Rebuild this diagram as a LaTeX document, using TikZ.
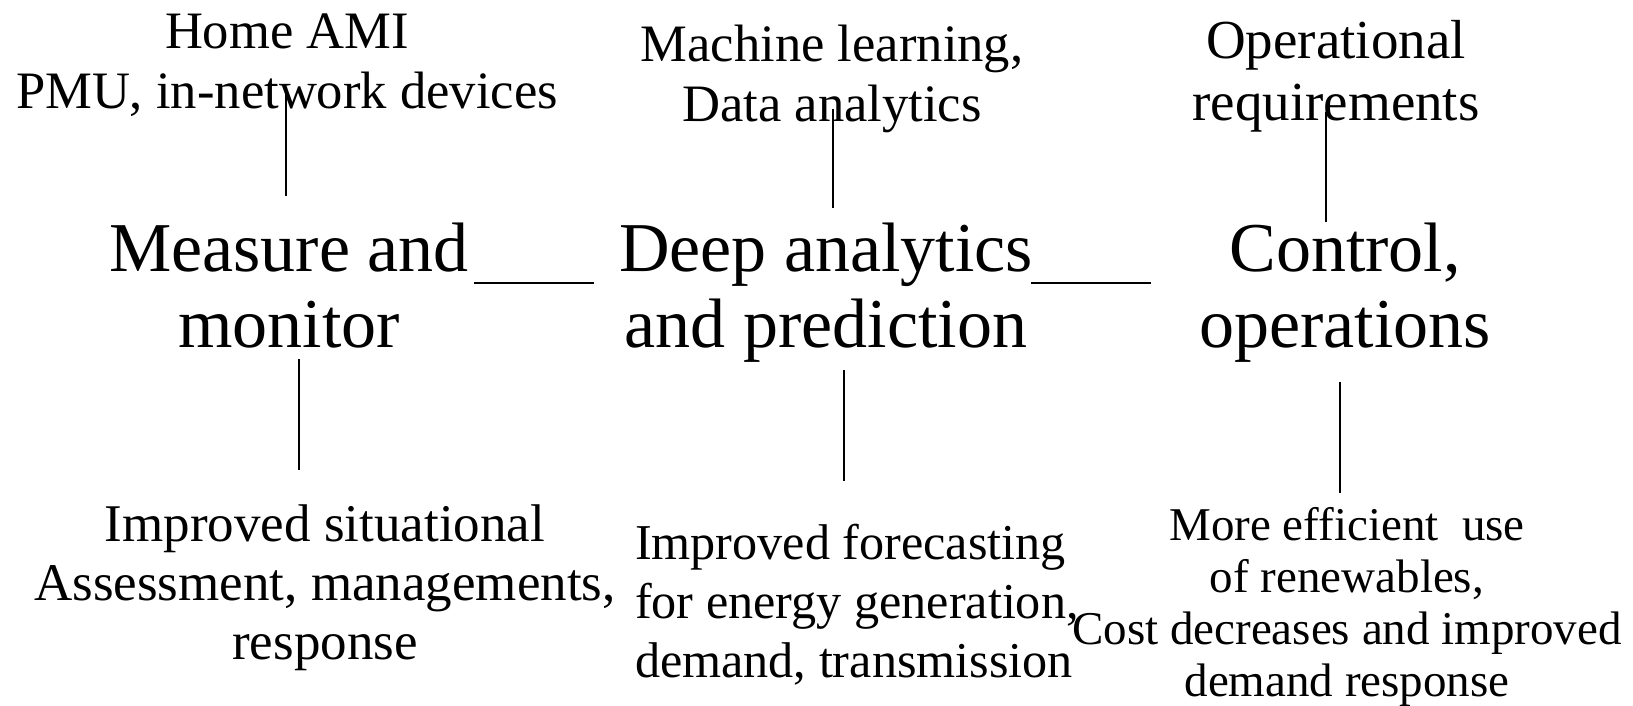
\documentclass[tikz,border=0pt]{standalone}
\usepackage{fontspec}
\setmainfont{Liberation Serif}

\begin{document}
\begin{tikzpicture}[x=0.5pt,y=-0.5pt,
    every node/.style={inner sep=0pt,outer sep=0pt},
    cause/.style={align=center,font=\fontsize{26.3}{30}\selectfont},
    stage/.style={align=center,font=\fontsize{35}{38}\selectfont},
    gain/.style={align=center,font=\fontsize{26.5}{29.5}\selectfont},
    link/.style={line width=1pt}]
    \useasboundingbox (0,0) rectangle (1633,706);
    % top row: inputs
    \node [cause] (home) at (287,65) {Home AMI\\PMU, in-network devices};
    \node [cause] (ml) at (832,79) {Machine learning,\\Data analytics};
    \node [cause,font=\fontsize{27.5}{31}\selectfont] (opreq) at (1336,76) {Operational\\requirements};
    % middle row: stages
    \node [stage] (meas) at (289,286) {Measure and\\monitor};
    \node [stage] (deep) at (826,293) {Deep analytics\\and prediction};
    \node [stage] (ctrl) at (1345,293) {Control,\\operations};
    % bottom row: benefits
    \node [gain] (situ) at (325,588) {Improved situational\\Assessment, managements,\\response};
    \node [gain,font=\fontsize{25.1}{29.5}\selectfont,align=left,anchor=west] (fcst) at (635,605) {Improved forecasting\\for energy generation,\\demand, transmission};
    \node [gain,font=\fontsize{23.5}{26}\selectfont] (renew) at (1347,607) {More efficient~ use\\of renewables,\\Cost decreases and improved\\demand response};
    % line ends
    \coordinate (home-a) at (286,94);   \coordinate (meas-a) at (286,196);
    \coordinate (ml-a) at (833,109);    \coordinate (deep-a) at (833,208);
    \coordinate (opreq-a) at (1326,112); \coordinate (ctrl-a) at (1326,222);
    \coordinate (meas-b) at (299,359);  \coordinate (situ-a) at (299,470);
    \coordinate (deep-b) at (844,370);  \coordinate (fcst-a) at (844,481);
    \coordinate (ctrl-b) at (1340,382); \coordinate (renew-a) at (1340,493);
    \coordinate (meas-c) at (474,283);  \coordinate (deep-c) at (594,283);
    \coordinate (deep-d) at (1031,283); \coordinate (ctrl-c) at (1151,283);
    \draw[link] (home-a) -- (meas-a);
    \draw[link] (ml-a) -- (deep-a);
    \draw[link] (opreq-a) -- (ctrl-a);
    \draw[link] (meas-b) -- (situ-a);
    \draw[link] (deep-b) -- (fcst-a);
    \draw[link] (ctrl-b) -- (renew-a);
    \draw[link] (meas-c) -- (deep-c);
    \draw[link] (deep-d) -- (ctrl-c);
\end{tikzpicture}
\end{document}
